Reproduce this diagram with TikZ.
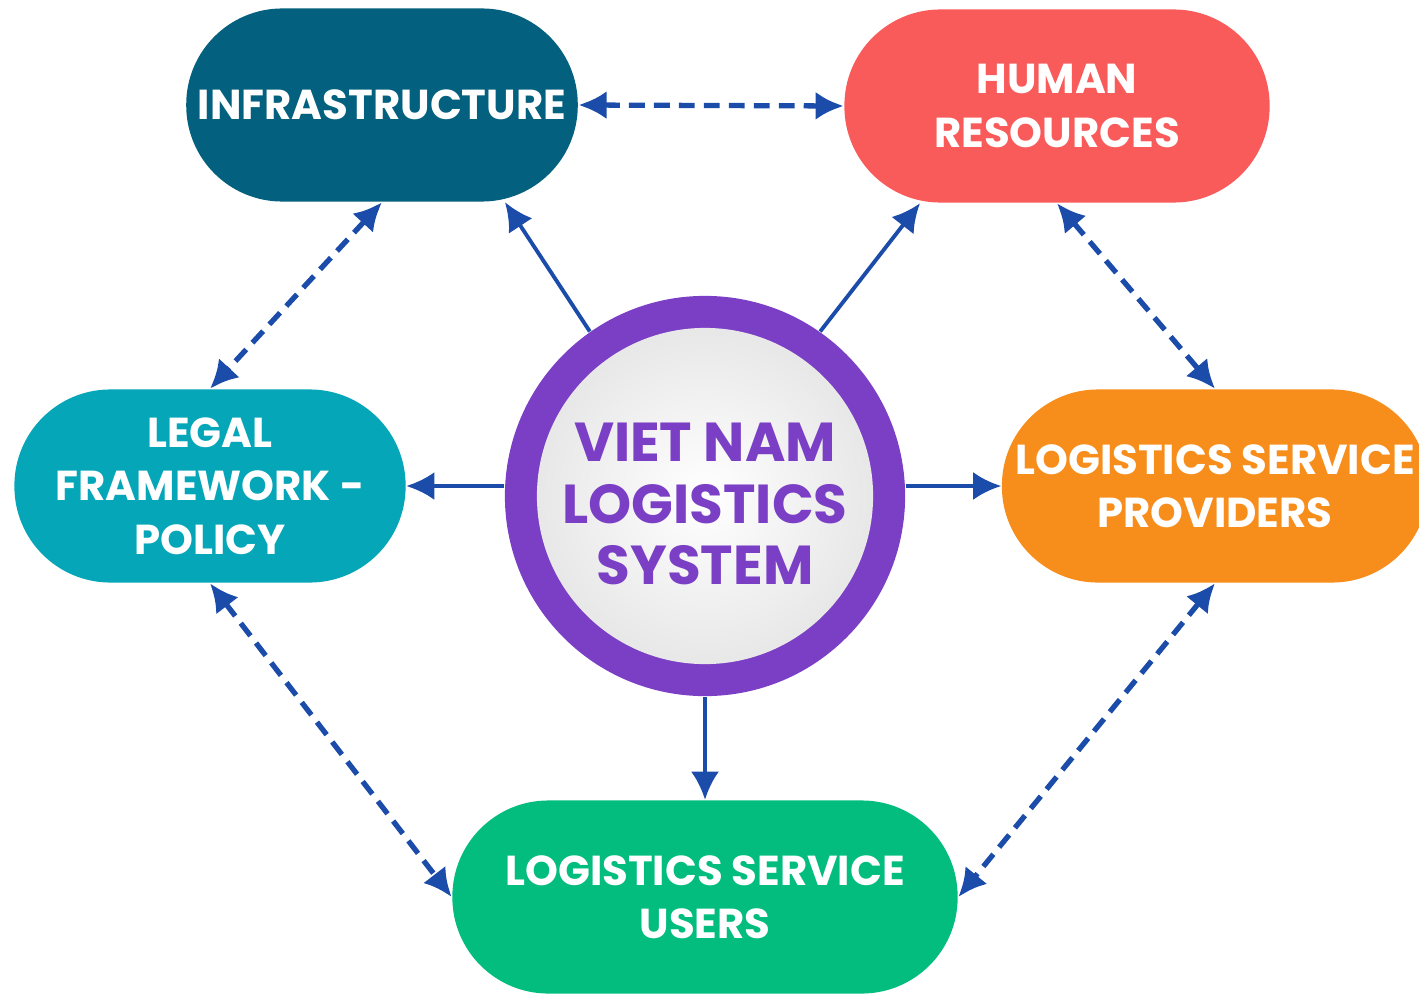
\documentclass[tikz,border=0pt]{standalone}
\usepackage{fontspec}
\setmainfont{Poppins}
\usepackage{xcolor}
\usetikzlibrary{positioning, calc, arrows.meta}

\definecolor{infracol}{HTML}{03617F}
\definecolor{humancol}{HTML}{F95A5A}
\definecolor{legalcol}{HTML}{04A6B8}
\definecolor{provcol}{HTML}{F78D1B}
\definecolor{usercol}{HTML}{02BD7E}
\definecolor{ringcol}{HTML}{7B3FC6}
\definecolor{linkcol}{HTML}{1B4CAA}

\tikzset{
  pill/.style={rectangle, rounded corners=0.96cm, minimum height=1.93cm,
    text=white, align=center, font=\fontsize{11.9}{15.2}\selectfont\bfseries},
  link/.style={draw=linkcol, line width=1.1pt, -{Latex[length=8pt,width=8pt]}},
  mutual/.style={draw=linkcol, line width=1.5pt, dash pattern=on 4.5pt off 2.6pt,
    {Latex[length=8pt,width=8pt]}-{Latex[length=8pt,width=8pt]}}
}

\begin{document}
\begin{tikzpicture}[x=0.01cm, y=-0.01cm]
  \useasboundingbox (0,0) rectangle (1419,994);

  % the five pills
  \node[pill, fill=infracol, minimum width=3.91cm] (infra) at (382,105) {INFRASTRUCTURE};
  \node[pill, fill=humancol, minimum width=4.25cm] (human) at (1057,106) {HUMAN\\RESOURCES};
  \node[pill, fill=legalcol, minimum width=3.91cm] (legal) at (210,486) {LEGAL\\FRAMEWORK -\\POLICY};
  \node[pill, fill=provcol, minimum width=4.26cm] (prov) at (1215,486) {LOGISTICS SERVICE\\PROVIDERS};
  \node[pill, fill=usercol, minimum width=5.05cm] (users) at (705,897) {LOGISTICS SERVICE\\USERS};

  % centre
  \node[circle, fill=ringcol, minimum size=4cm,
    path picture={\shade[inner color=white, middle color=white!98!black, outer color=black!11]
      (path picture bounding box.center) circle (1.68cm);},
    label={[text=ringcol, align=center, yshift=-0.08cm,
      font=\fontsize{15.6}{17.4}\selectfont\bfseries]center:VIET NAM\\LOGISTICS\\SYSTEM}]
    (ctr) at (705,496) {};

  % solid links from the centre
  \draw[link] (ctr.125) -- ($(infra.south)+(123,0)$);
  \draw[link] (ctr.55) -- ($(human.south)+(-137,0)$);
  \draw[link] (ctr.west |- legal.east) -- (legal.east);
  \draw[link] (ctr.east |- prov.west) -- (prov.west);
  \draw[link] (ctr.south) -- (users.north);

  % dashed two-way links
  \draw[mutual] (infra.east) -- (human.west);
  \draw[mutual] (infra.south) -- (legal.north);
  \draw[mutual] (human.south) -- (prov.north);
  \draw[mutual] (legal.south) -- (users.west);
  \draw[mutual] (prov.south) -- (users.east);
\end{tikzpicture}
\end{document}
